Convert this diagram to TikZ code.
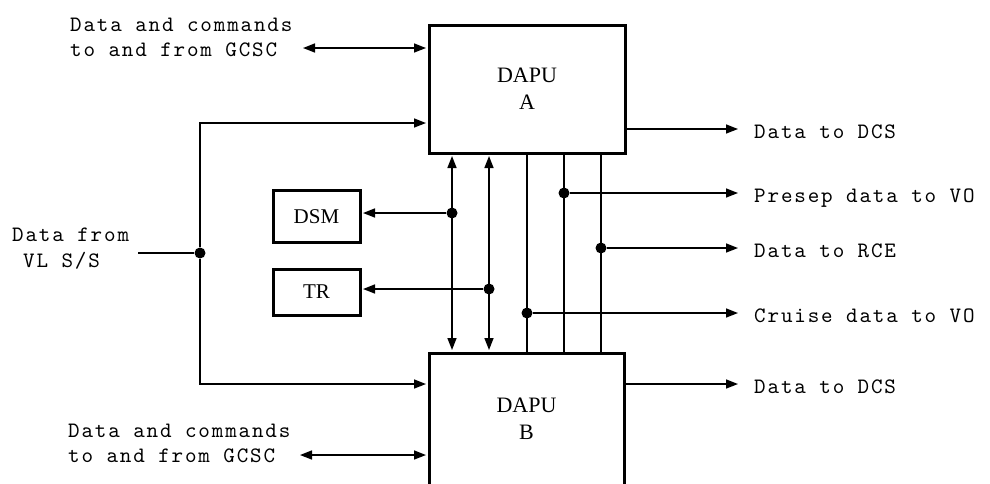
\documentclass[tikz,border=0pt]{standalone}
\usepackage{fontspec}
\setmainfont{Liberation Serif}
\newfontfamily\lblfont{lmmono10-regular.otf}[LetterSpace=8.4]
\usetikzlibrary{arrows.meta}
\begin{document}
\begin{tikzpicture}[x=1pt,y=-1pt,
  wire/.style={line width=1.5pt},
  arr/.style={wire,-{Triangle[length=12pt,width=9pt]}},
  darr/.style={wire,{Triangle[length=12pt,width=9pt]}-{Triangle[length=12pt,width=9pt]}},
  unit/.style={draw,line width=3pt,inner sep=0pt,align=center,font=\fontsize{22}{27}\selectfont},
  aux/.style={draw,line width=3pt,inner sep=0pt,font=\fontsize{21}{24}\selectfont},
  jdot/.style={circle,fill,inner sep=0pt,minimum size=11pt},
  lbl/.style={inner sep=0pt,anchor=base west,font=\lblfont\fontsize{22}{26}\selectfont}]
\useasboundingbox (0,0) rectangle (990,483);
\fill[white] (0,0) rectangle (990,483);
\clip (0,0) rectangle (990,483);

% blocks
\node[unit,minimum width=196pt,minimum height=128pt] (A) at (527,89) {DAPU\\A};
\node[unit,minimum width=195pt,minimum height=132pt] (B) at (526.5,419) {DAPU\\B};
\node[aux,minimum width=87pt,minimum height=52pt] (DSM) at (316.5,216.5) {DSM};
\node[aux,minimum width=87pt,minimum height=46pt] (TR) at (316.5,292) {TR};

% labels
\node[lbl] (gA1) at (70,31) {Data and commands};
\node[lbl] (gA2) at (70,56) {to and from GCSC};
\node[lbl] (gB1) at (68,437) {Data and commands};
\node[lbl] (gB2) at (68,462) {to and from GCSC};
\node[lbl] (vl1) at (12,241) {Data from};
\node[lbl] (vl2) at (23,267) {VL S/S};
\node[lbl] (r1) at (754,138) {Data to DCS};
\node[lbl] (r2) at (754,202) {Presep data to VO};
\node[lbl] (r3) at (754,257) {Data to RCE};
\node[lbl] (r4) at (754,322) {Cruise data to VO};
\node[lbl] (r5) at (754,393) {Data to DCS};

% helper coordinates
\coordinate (tip) at (738,0);
\coordinate (b1) at (452,0);
\coordinate (b2) at (489,0);
\coordinate (b3) at (527,0);
\coordinate (b4) at (564,0);
\coordinate (b5) at (601,0);
\coordinate (yda) at (0,129);
\coordinate (ydb) at (0,384);
\coordinate (ylA) at (0,123);
\coordinate (ylB) at (0,384);
\coordinate (gax) at (303,48);
\coordinate (gbx) at (300,455);
\coordinate (vin) at (138,253);

% junction dots
\node[jdot] (jin) at (200,253) {};
\node[jdot] (jdsm) at (452,213) {};
\node[jdot] (jtr) at (489,289) {};
\node[jdot] (jpre) at (564,193) {};
\node[jdot] (jrce) at (601,248) {};
\node[jdot] (jcru) at (527,313) {};

% bus between units
\draw[darr,shorten >=1.5pt,shorten <=1.5pt] (b1 |- A.south) -- (b1 |- B.north);
\draw[darr,shorten >=1.5pt,shorten <=1.5pt] (b2 |- A.south) -- (b2 |- B.north);
\draw[wire] (b3 |- A.south) -- (b3 |- B.north);
\draw[wire] (b4 |- A.south) -- (b4 |- B.north);
\draw[wire] (b5 |- A.south) -- (b5 |- B.north);

% taps
\draw[arr,shorten >=1.5pt] (jdsm) -- (jdsm -| DSM.east);
\draw[arr,shorten >=1.5pt] (jtr) -- (jtr -| TR.east);
\draw[arr] (jpre) -- (jpre -| tip);
\draw[arr] (jrce) -- (jrce -| tip);
\draw[arr] (jcru) -- (jcru -| tip);

% outputs
\draw[arr] (yda -| A.east) -- (yda -| tip);
\draw[arr] (ydb -| B.east) -- (ydb -| tip);

% GCSC
\draw[darr,shorten >=1.5pt] (gax) -- (gax -| A.west);
\draw[darr,shorten >=1.5pt] (gbx) -- (gbx -| B.west);

% VL S/S input
\draw[wire] (vin) -- (jin);
\draw[arr,shorten >=1.5pt] (jin) |- (ylA -| A.west);
\draw[arr,shorten >=1.5pt] (jin) |- (ylB -| B.west);
\end{tikzpicture}
\end{document}
